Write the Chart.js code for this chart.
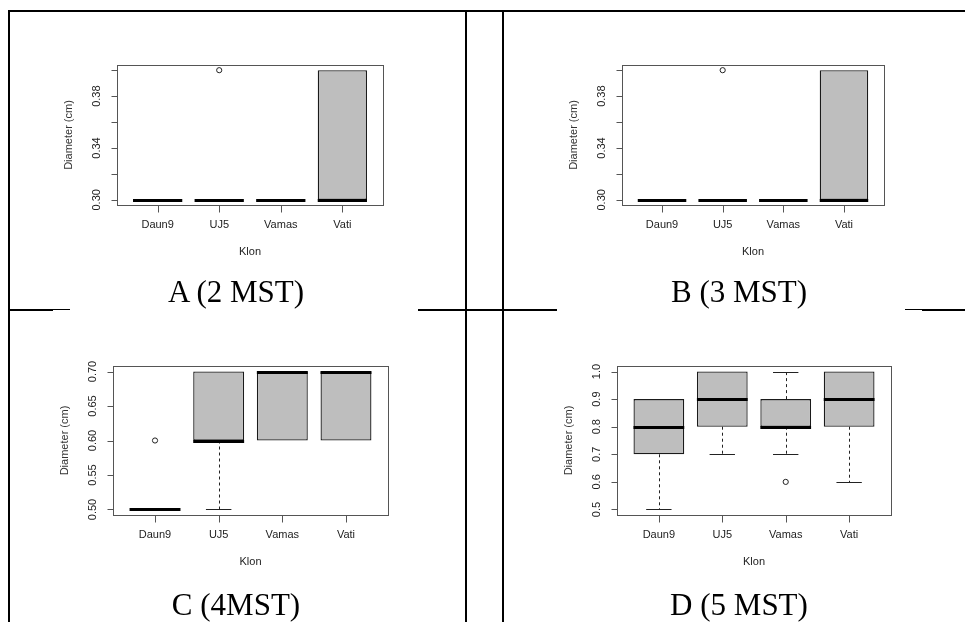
<!DOCTYPE html>
<html>
<head>
<meta charset="utf-8">
<script src="https://cdn.jsdelivr.net/npm/chart.js@4.4.1/dist/chart.umd.min.js"></script>
<style>
  html, body { margin: 0; padding: 0; background: #fff; }
  #page { position: relative; width: 965px; height: 622px; overflow: hidden; background: #fff; }
  canvas { position: absolute; left: 0; top: 0; }
  .ln { position: absolute; background: #000; }
  .cap { position: absolute; width: 300px; text-align: center; font-family: "Liberation Serif", "Times New Roman", serif;
         font-size: 31px; line-height: 31px; color: #000; white-space: nowrap; }
</style>
</head>
<body>
<div id="page">
  <div class="ln" style="left:8px;top:10px;width:957px;height:2px"></div>
  <div class="ln" style="left:8px;top:10px;width:2px;height:612px"></div>
  <div class="ln" style="left:465px;top:10px;width:2px;height:612px"></div>
  <div class="ln" style="left:502px;top:10px;width:2px;height:612px"></div>
  <div class="ln" style="left:8px;top:309px;width:45px;height:2px"></div>
  <div class="ln" style="left:53px;top:309px;width:17px;height:1px"></div>
  <div class="ln" style="left:418px;top:309px;width:139px;height:2px"></div>
  <div class="ln" style="left:905px;top:309px;width:17px;height:1px"></div>
  <div class="ln" style="left:922px;top:309px;width:43px;height:2px"></div>

  <canvas id="cA" width="965" height="622"></canvas>
  <canvas id="cB" width="965" height="622"></canvas>
  <canvas id="cC" width="965" height="622"></canvas>
  <canvas id="cD" width="965" height="622"></canvas>

  <div class="cap" style="left:86px;top:276px">A (2 MST)</div>
  <div class="cap" style="left:589px;top:276px">B (3 MST)</div>
  <div class="cap" style="left:86px;top:589px">C (4MST)</div>
  <div class="cap" style="left:589px;top:589px">D (5 MST)</div>
</div>
<script>
// ---------------- DATA ----------------
const categories = ['Daun9', 'UJ5', 'Vamas', 'Vati'];
const xTitle = 'Klon';
const yTitle = 'Diameter (cm)';

// A (2 MST)
const a_q1  = [0.30, 0.30, 0.30, 0.30];
const a_med = [0.30, 0.30, 0.30, 0.30];
const a_q3  = [0.30, 0.30, 0.30, 0.40];
const a_lo  = [0.30, 0.30, 0.30, 0.30];
const a_hi  = [0.30, 0.30, 0.30, 0.40];
const a_out = [[], [0.40], [], []];
const a_yTicks  = [0.30, 0.32, 0.34, 0.36, 0.38, 0.40];
const a_yLabels = ['0.30', '', '0.34', '', '0.38', ''];

// B (3 MST)
const b_q1  = [0.30, 0.30, 0.30, 0.30];
const b_med = [0.30, 0.30, 0.30, 0.30];
const b_q3  = [0.30, 0.30, 0.30, 0.40];
const b_lo  = [0.30, 0.30, 0.30, 0.30];
const b_hi  = [0.30, 0.30, 0.30, 0.40];
const b_out = [[], [0.40], [], []];
const b_yTicks  = [0.30, 0.32, 0.34, 0.36, 0.38, 0.40];
const b_yLabels = ['0.30', '', '0.34', '', '0.38', ''];

// C (4MST)
const c_q1  = [0.50, 0.60, 0.60, 0.60];
const c_med = [0.50, 0.60, 0.70, 0.70];
const c_q3  = [0.50, 0.70, 0.70, 0.70];
const c_lo  = [0.50, 0.50, 0.60, 0.60];
const c_hi  = [0.50, 0.70, 0.70, 0.70];
const c_out = [[0.60], [], [], []];
const c_yTicks  = [0.50, 0.55, 0.60, 0.65, 0.70];
const c_yLabels = ['0.50', '0.55', '0.60', '0.65', '0.70'];

// D (5 MST)
const d_q1  = [0.7, 0.8, 0.8, 0.8];
const d_med = [0.8, 0.9, 0.8, 0.9];
const d_q3  = [0.9, 1.0, 0.9, 1.0];
const d_lo  = [0.5, 0.7, 0.7, 0.6];
const d_hi  = [0.9, 1.0, 1.0, 1.0];
const d_out = [[], [], [0.6], []];
const d_yTicks  = [0.5, 0.6, 0.7, 0.8, 0.9, 1.0];
const d_yLabels = ['0.5', '0.6', '0.7', '0.8', '0.9', '1.0'];

// ---------------- LAYOUT (plot regions, page pixels) ----------------
const W = 965, H = 622;
const layouts = {
  cA: { left: 117, top: 65,  right: 383, bottom: 205 },
  cB: { left: 622, top: 65,  right: 884, bottom: 205 },
  cC: { left: 113, top: 366, right: 388, bottom: 515 },
  cD: { left: 617, top: 366, right: 891, bottom: 515 }
};

const FONT = '11px "Liberation Sans", Arial, sans-serif';
const TXT = '#222';
const AXC = '#555';

const rboxPlugin = {
  id: 'rbox',
  afterDatasetsDraw(chart, args, o) {
    const ctx = chart.ctx, x = chart.scales.x, y = chart.scales.y;
    ctx.save();
    for (let i = 0; i < categories.length; i++) {
      const cx = x.getPixelForValue(i + 1);
      const half = x.getPixelForValue(i + 1.4) - cx;
      const sHalf = x.getPixelForValue(i + 1.2) - cx;
      const xc = Math.round(cx) + 0.5;
      ctx.strokeStyle = '#222';
      ctx.lineWidth = 1;
      // whiskers (dashed) and staples, where the whisker has length
      const segs = [];
      if (o.lo[i] < o.q1[i]) segs.push([o.q1[i], o.lo[i]]);
      if (o.hi[i] > o.q3[i]) segs.push([o.q3[i], o.hi[i]]);
      segs.forEach(([from, to]) => {
        ctx.setLineDash([3, 3]);
        ctx.beginPath();
        ctx.moveTo(xc, y.getPixelForValue(from));
        ctx.lineTo(xc, y.getPixelForValue(to));
        ctx.stroke();
        ctx.setLineDash([]);
        const py = Math.round(y.getPixelForValue(to)) + 0.5;
        ctx.beginPath();
        ctx.moveTo(cx - sHalf, py); ctx.lineTo(cx + sHalf, py);
        ctx.stroke();
      });
      // median
      ctx.lineWidth = 3;
      ctx.strokeStyle = '#000';
      ctx.lineCap = 'butt';
      const pm = Math.round(y.getPixelForValue(o.med[i])) + 0.5;
      ctx.beginPath();
      ctx.moveTo(cx - half, pm); ctx.lineTo(cx + half, pm);
      ctx.stroke();
    }
    ctx.restore();
  },
  afterDraw(chart, args, o) {
    const ctx = chart.ctx, x = chart.scales.x, y = chart.scales.y, a = chart.chartArea;
    ctx.save();
    ctx.strokeStyle = AXC;
    ctx.lineWidth = 1;
    // frame
    ctx.strokeRect(Math.round(a.left) + 0.5, Math.round(a.top) + 0.5, Math.round(a.right - a.left), Math.round(a.bottom - a.top));
    // y axis ticks
    ctx.beginPath();
    const yl = Math.round(a.left) + 0.5;
    o.yTicks.forEach(v => {
      const py = Math.round(y.getPixelForValue(v)) + 0.5;
      ctx.moveTo(yl - 6, py); ctx.lineTo(yl, py);
    });
    // x axis ticks
    const yb = Math.round(a.bottom) + 0.5;
    categories.forEach((c, i) => {
      const px = Math.round(x.getPixelForValue(i + 1)) + 0.5;
      ctx.moveTo(px, yb); ctx.lineTo(px, yb + 7);
    });
    ctx.stroke();
    // labels
    ctx.fillStyle = TXT;
    ctx.font = FONT;
    ctx.textAlign = 'center';
    ctx.textBaseline = 'middle';
    categories.forEach((c, i) => {
      ctx.fillText(c, x.getPixelForValue(i + 1), a.bottom + 20);
    });
    ctx.fillText(xTitle, (a.left + a.right) / 2, a.bottom + 47);
    o.yTicks.forEach((v, i) => {
      const lab = o.yLabels[i];
      if (!lab) return;
      ctx.save();
      ctx.translate(a.left - 20, y.getPixelForValue(v));
      ctx.rotate(-Math.PI / 2);
      ctx.fillText(lab, 0, 0);
      ctx.restore();
    });
    ctx.save();
    ctx.fillStyle = '#333';
    ctx.translate(a.left - 48, (a.top + a.bottom) / 2);
    ctx.rotate(-Math.PI / 2);
    ctx.fillText(yTitle, 0, 0);
    ctx.restore();
    ctx.restore();
  }
};

function makePanel(id, q1, med, q3, lo, hi, out, yTicks, yLabels) {
  const L = layouts[id];
  const all = [].concat(q1, q3, lo, hi, ...out);
  const dmin = Math.min(...all), dmax = Math.max(...all);
  const ext = (dmax - dmin) * 0.04;
  const outPts = [];
  out.forEach((arr, i) => arr.forEach(v => outPts.push({ x: i + 1, y: v })));
  new Chart(document.getElementById(id), {
    type: 'bar',
    data: {
      datasets: [
        {
          type: 'bar',
          data: categories.map((c, i) => ({ x: i + 1, y: [q1[i], q3[i]] })),
          backgroundColor: '#bebebe',
          borderColor: '#1a1a1a',
          borderWidth: 1.3,
          borderSkipped: false,
          barPercentage: 0.8,
          categoryPercentage: 1.0
        },
        {
          type: 'scatter',
          data: outPts,
          pointRadius: 2.6,
          pointBorderWidth: 1,
          pointBackgroundColor: '#fff',
          pointBorderColor: '#222'
        }
      ]
    },
    options: {
      responsive: false,
      animation: false,
      events: [],
      devicePixelRatio: 1,
      layout: { padding: { left: L.left, top: L.top, right: W - L.right, bottom: H - L.bottom } },
      scales: {
        x: {
          type: 'linear', offset: false, min: 0.5 - 0.16, max: categories.length + 0.5 + 0.16, display: false,
          afterBuildTicks: s => { s.ticks = categories.map((c, i) => ({ value: i + 1 })); }
        },
        y: { type: 'linear', min: dmin - ext, max: dmax + ext, display: false }
      },
      plugins: {
        legend: { display: false },
        tooltip: { enabled: false },
        rbox: { q1, med, q3, lo, hi, yTicks, yLabels }
      }
    },
    plugins: [rboxPlugin]
  });
}

makePanel('cA', a_q1, a_med, a_q3, a_lo, a_hi, a_out, a_yTicks, a_yLabels);
makePanel('cB', b_q1, b_med, b_q3, b_lo, b_hi, b_out, b_yTicks, b_yLabels);
makePanel('cC', c_q1, c_med, c_q3, c_lo, c_hi, c_out, c_yTicks, c_yLabels);
makePanel('cD', d_q1, d_med, d_q3, d_lo, d_hi, d_out, d_yTicks, d_yLabels);
</script>
</body>
</html>
